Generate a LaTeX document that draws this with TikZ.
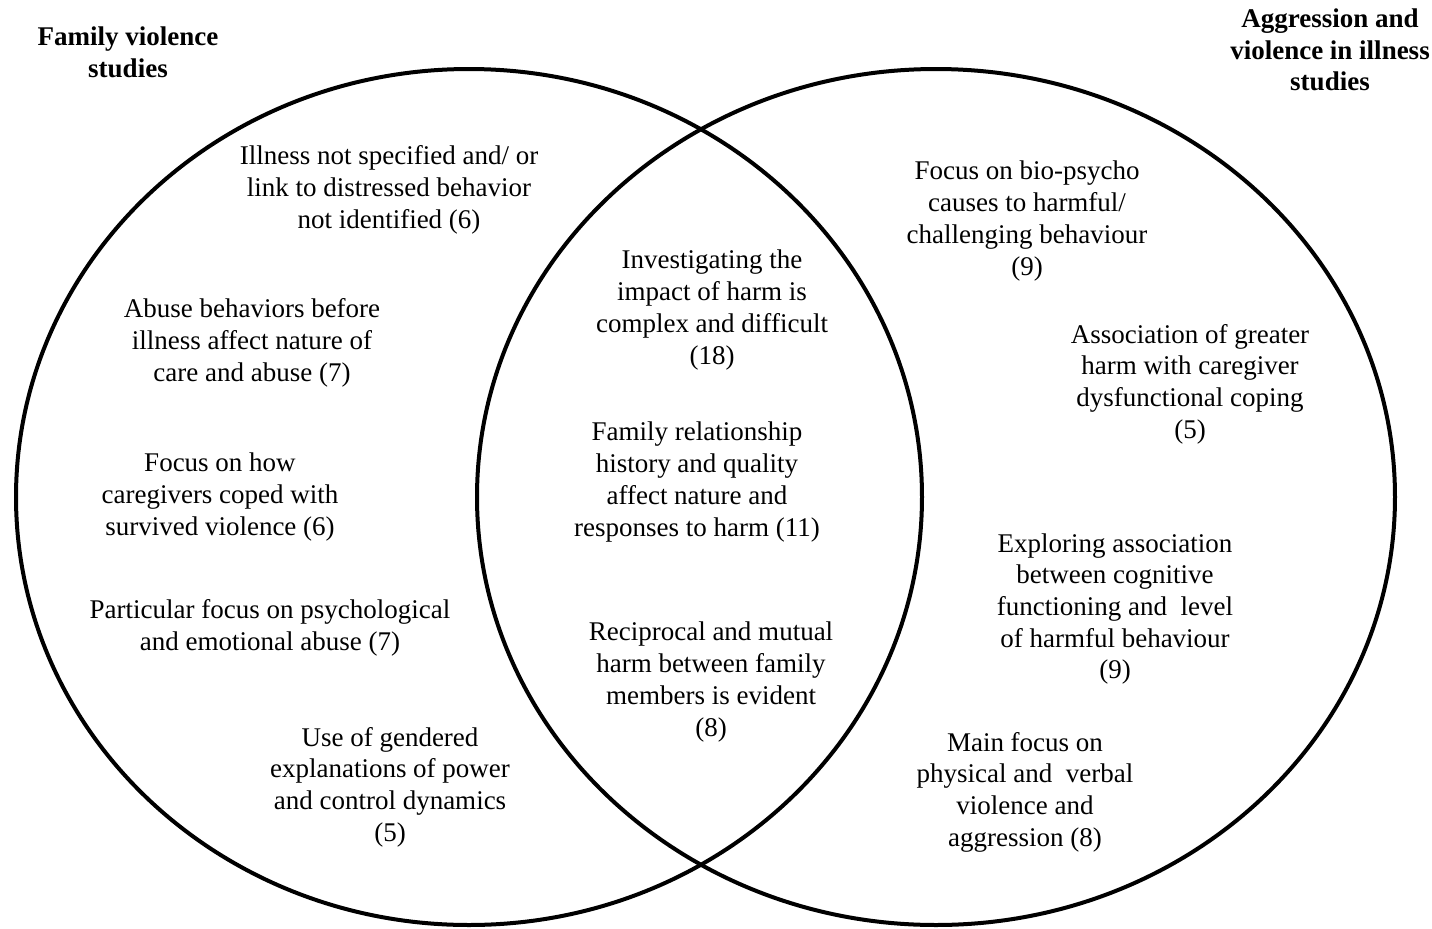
\documentclass[tikz,border=0pt]{standalone}
\usepackage{fontspec}
\setmainfont{Liberation Serif}
\usepackage{tikz}
\tikzset{
    venn/.style={draw, line width=2pt},
    theme/.style={align=center, inner sep=0pt, font=\fontsize{13.5}{15.85}\selectfont},
    heading/.style={align=center, inner sep=0pt, font=\fontsize{13.5}{15.85}\selectfont\bfseries}
}
\begin{document}
\begin{tikzpicture}[x=0.5pt, y=-0.5pt]
            \useasboundingbox (0,0) rectangle (1432,928);
            % the two sets
            \draw[venn] (469,497) ellipse [x radius=226.5pt, y radius=214pt];
            \draw[venn] (936,497) ellipse [x radius=229.5pt, y radius=214pt];

            \node (famtitle) [heading] at (128,52) {Family violence\\studies};
            \node (illtitle) [heading] at (1330,50) {Aggression and\\violence in illness\\studies};

            % family violence only
            \node (unspec) [theme] at (389,190) {Illness not specified and/ or\\link to distressed behavior\\not identified (6)};
            \node (before) [theme] at (252,343) {Abuse behaviors before\\illness affect nature of\\care and abuse (7)};
            \node (coped) [theme] at (220,497) {Focus on how\\caregivers coped with\\survived violence (6)};
            \node (psych) [theme] at (270,628) {Particular focus on psychological\\and emotional abuse (7)};
            \node (gender) [theme] at (390,787) {Use of gendered\\explanations of power\\and control dynamics\\(5)};

            % both
            \node (impact) [theme] at (712,310) {Investigating the\\impact of harm is\\complex and difficult\\(18)};
            \node (history) [theme] at (697,482) {Family relationship\\history and quality\\affect nature and\\responses to harm (11)};
            \node (mutual) [theme] at (711,682) {Reciprocal and mutual\\harm between family\\members is evident\\(8)};

            % illness only
            \node (biopsy) [theme] at (1027,221) {Focus on bio-psycho\\causes to harmful/\\challenging behaviour\\(9)};
            \node (coping) [theme] at (1190,384) {Association of greater\\harm with caregiver\\dysfunctional coping\\(5)};
            \node (cognit) [theme] at (1115,609) {Exploring association\\between cognitive\\functioning and \ level\\of harmful behaviour\\(9)};
            \node (physic) [theme] at (1025,792) {Main focus on\\physical and \ verbal\\violence and\\aggression (8)};
        \end{tikzpicture}
\end{document}
